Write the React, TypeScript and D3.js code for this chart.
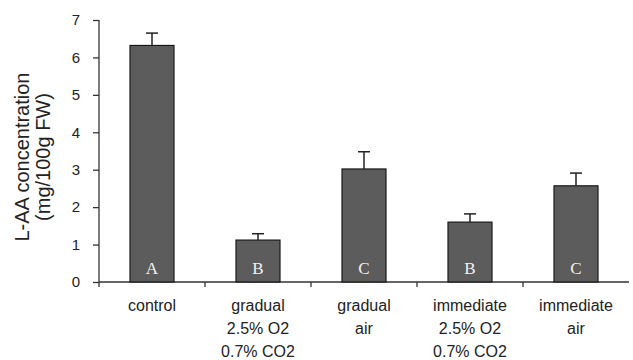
import React, { useRef, useEffect } from 'react';
import * as d3 from 'd3';

// values
const categories = ['control', 'gradual\n2.5% O2\n0.7% CO2', 'gradual\nair', 'immediate\n2.5% O2\n0.7% CO2', 'immediate\nair'];
const means = [6.32, 1.12, 3.02, 1.6, 2.57];
const errors = [0.33, 0.17, 0.46, 0.22, 0.34];
const letters = ['A', 'B', 'C', 'B', 'C'];
const yTicks = [0, 1, 2, 3, 4, 5, 6, 7];

export default function App() {
  const svgRef = useRef<SVGSVGElement>(null);

  useEffect(() => {
    const svg = d3.select(svgRef.current);
    svg.selectAll('*').remove();

    const left = 99, right = 629, top = 20, bottom = 282;
    const ink = '#333';
    const sans = 'Liberation Sans, Arial, sans-serif';

    const x = d3.scaleBand().domain(categories).range([left, right]).paddingInner(0).paddingOuter(0);
    const y = d3.scaleLinear().domain([0, 7]).range([bottom, top]);
    const barW = 44;

    // y axis
    const yAxis = svg.append('g')
      .attr('transform', `translate(${left},0)`)
      .call(d3.axisLeft(y).tickValues(yTicks).tickSize(6).tickPadding(13).tickFormat(d3.format('d')));
    yAxis.select('.domain').attr('stroke', ink).attr('stroke-width', 1.3).attr('d', `M0,${top}V${bottom + 5}`);
    yAxis.selectAll('line').attr('stroke', ink).attr('stroke-width', 1.3);
    yAxis.selectAll('text').attr('font-family', sans).attr('font-size', 15).attr('fill', '#222');

    // x axis line + ticks between categories
    svg.append('line').attr('x1', left).attr('x2', right).attr('y1', bottom).attr('y2', bottom)
      .attr('stroke', ink).attr('stroke-width', 1.3);
    svg.selectAll('.xtick').data(categories.slice(1)).enter().append('line')
      .attr('x1', d => x(d)!).attr('x2', d => x(d)!)
      .attr('y1', bottom).attr('y2', bottom + 5)
      .attr('stroke', ink).attr('stroke-width', 1.3);

    // bars
    svg.selectAll('.bar').data(categories).enter().append('rect')
      .attr('x', d => x(d)! + x.bandwidth() / 2 - barW / 2)
      .attr('y', (d, i) => y(means[i]))
      .attr('width', barW)
      .attr('height', (d, i) => bottom - y(means[i]))
      .attr('fill', '#5c5c5c')
      .attr('stroke', '#1a1a1a')
      .attr('stroke-width', 1.2);

    // error bars (upper only)
    const eb = svg.selectAll('.err').data(categories).enter().append('g');
    eb.append('line')
      .attr('x1', d => x(d)! + x.bandwidth() / 2).attr('x2', d => x(d)! + x.bandwidth() / 2)
      .attr('y1', (d, i) => y(means[i])).attr('y2', (d, i) => y(means[i] + errors[i]))
      .attr('stroke', '#222').attr('stroke-width', 1.5);
    eb.append('line')
      .attr('x1', d => x(d)! + x.bandwidth() / 2 - 6).attr('x2', d => x(d)! + x.bandwidth() / 2 + 6)
      .attr('y1', (d, i) => y(means[i] + errors[i])).attr('y2', (d, i) => y(means[i] + errors[i]))
      .attr('stroke', '#222').attr('stroke-width', 1.5);

    // significance letters
    svg.selectAll('.letter').data(categories).enter().append('text')
      .attr('x', d => x(d)! + x.bandwidth() / 2)
      .attr('y', bottom - 8)
      .attr('text-anchor', 'middle')
      .attr('font-family', 'Liberation Serif, Times New Roman, serif')
      .attr('font-size', 17)
      .attr('fill', '#f2f2f2')
      .text((d, i) => letters[i]);

    // category labels
    const lab = svg.selectAll('.xlab').data(categories).enter().append('text')
      .attr('text-anchor', 'middle')
      .attr('font-family', sans)
      .attr('font-size', 16)
      .attr('fill', '#222');
    lab.selectAll('tspan').data(d => d.split('\n').map(s => ({ s, c: d }))).enter().append('tspan')
      .attr('x', d => x(d.c)! + x.bandwidth() / 2)
      .attr('y', (d, i) => 311 + i * 23)
      .text(d => d.s);

    // y axis title
    const title = svg.append('text')
      .attr('transform', `translate(0,157) rotate(-90)`)
      .attr('text-anchor', 'middle')
      .attr('font-family', sans)
      .attr('font-size', 20)
      .attr('fill', '#222');
    title.append('tspan').attr('x', 0).attr('y', 29).text('L-AA concentration');
    title.append('tspan').attr('x', 0).attr('y', 50).text('(mg/100g FW)');
  }, []);

  return (
    <svg ref={svgRef} width={633} height={360}
      style={{ position: 'absolute', left: 0, top: 0, background: '#fff' }} />
  );
}
